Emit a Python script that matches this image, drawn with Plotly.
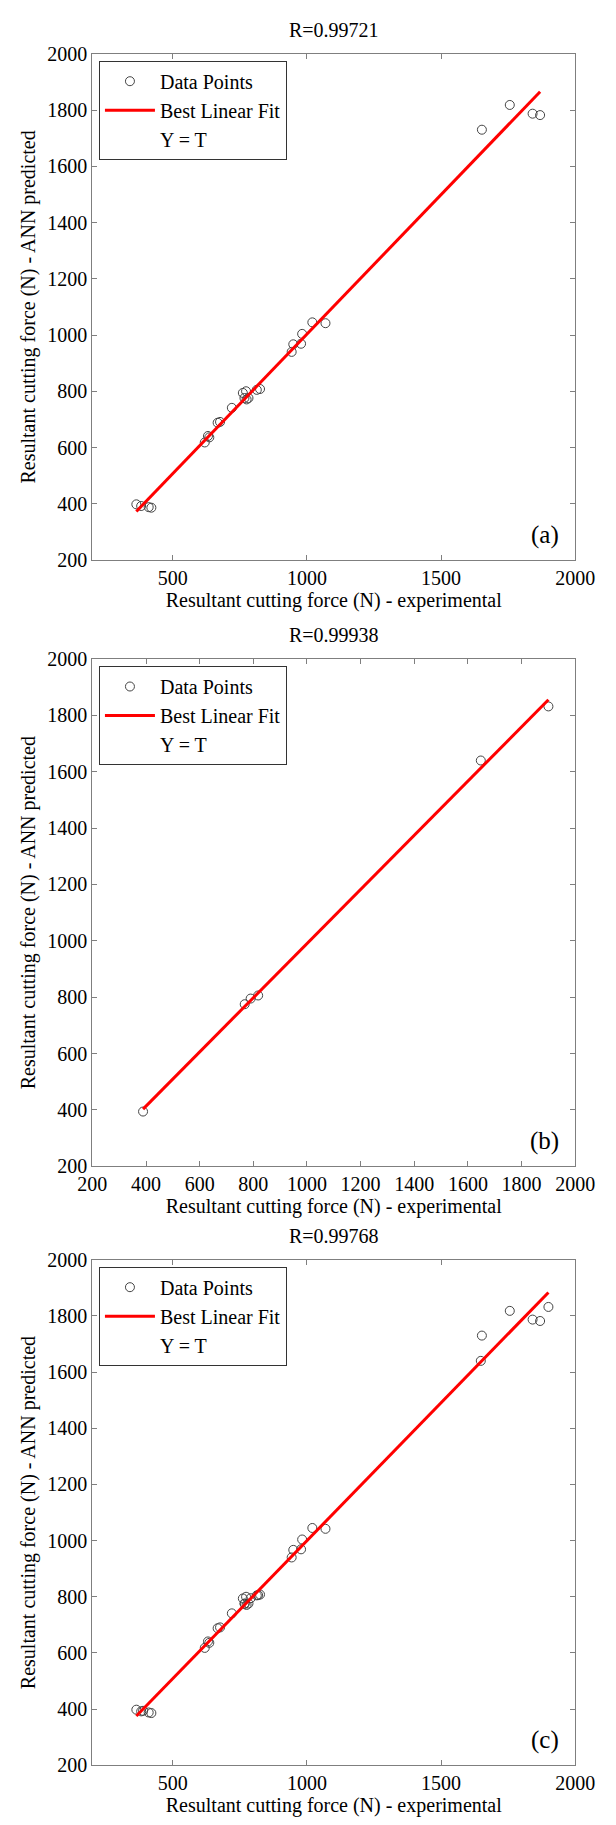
import numpy as np
import plotly.graph_objects as go

# ---------------- data ----------------
a_T = [364, 382, 410, 420, 619, 631, 636, 667, 676, 720, 761, 767, 773, 782, 775,
       813, 825, 943, 949, 978, 982, 1020, 1069, 1652, 1756, 1841, 1869]
a_Y = [398, 392, 388, 386, 618, 641, 636, 688, 691, 741, 794, 776, 800, 776, 771,
       805, 808, 940, 967, 969, 1004, 1045, 1042, 1730, 1818, 1787, 1782]

b_T = [389, 768, 790, 818, 1648, 1900]
b_Y = [394, 775, 795, 806, 1640, 1832]

c_T = a_T + b_T
c_Y = a_Y + b_Y

titles = ["R=0.99721", "R=0.99938", "R=0.99768"]
panel_labels = ["(a)", "(b)", "(c)"]
x_ticks = [[500, 1000, 1500, 2000],
           [200, 400, 600, 800, 1000, 1200, 1400, 1600, 1800, 2000],
           [500, 1000, 1500, 2000]]
y_ticks = [200, 400, 600, 800, 1000, 1200, 1400, 1600, 1800, 2000]
legend_names = ["Data Points", "Best Linear Fit", "Y = T"]
x_title = "Resultant cutting force (N) - experimental"
y_title = "Resultant cutting force (N) - ANN predicted"

datasets = [(a_T, a_Y), (b_T, b_Y), (c_T, c_Y)]

# ---------------- layout geometry ----------------
W, H = 616, 1825
FONT = "Liberation Serif"
x_dom = [82 / W, 594 / W]
frames_px = [(43.3, 555.7), (656.0, 1169.3), (1264.0, 1775.7)]  # top, bottom in px
y_doms = [[1 - b / H, 1 - t / H] for (t, b) in frames_px]

fig = go.Figure()
for i, (T, Y) in enumerate(datasets):
    sfx = "" if i == 0 else str(i + 1)
    xa, ya = "x" + sfx, "y" + sfx
    leg = "legend" + sfx
    T_arr = np.array(T, dtype=float)
    Y_arr = np.array(Y, dtype=float)
    m, c = np.polyfit(T_arr, Y_arr, 1)
    xf = np.array([T_arr.min(), T_arr.max()])
    yf = m * xf + c

    fig.add_trace(go.Scatter(
        x=T, y=Y, mode="markers", name=legend_names[0], xaxis=xa, yaxis=ya,
        legend=leg,
        marker=dict(symbol="circle-open", size=9, color="#444444",
                    line=dict(width=1, color="#444444"))))
    fig.add_trace(go.Scatter(
        x=xf, y=yf, mode="lines", name=legend_names[1], xaxis=xa, yaxis=ya,
        legend=leg, line=dict(color="#ff0000", width=3)))
    fig.add_trace(go.Scatter(
        x=T, y=T, mode="lines", name=legend_names[2], xaxis=xa, yaxis=ya,
        legend=leg, line=dict(color="rgba(0,0,0,0)", width=1)))

    axis_common = dict(
        showline=True, linecolor="#7f7f7f", linewidth=1, mirror="ticks",
        ticks="inside", ticklen=5, tickcolor="#7f7f7f",
        showgrid=False, zeroline=False,
        tickfont=dict(family=FONT, size=20, color="black"),
    )
    fig.layout["xaxis" + sfx] = dict(
        axis_common, domain=x_dom, anchor=ya, range=[200, 2000],
        tickvals=x_ticks[i],
        title=dict(text=x_title, font=dict(family=FONT, size=20, color="black"),
                   standoff=2))
    fig.layout["yaxis" + sfx] = dict(
        axis_common, domain=y_doms[i], anchor=xa, range=[200, 2000],
        tickvals=y_ticks,
        title=dict(text=y_title, font=dict(family=FONT, size=20, color="black"),
                   standoff=6))
    fig.layout[leg] = dict(
        x=x_dom[0] + 7 / W, y=y_doms[i][1] - 7 / H,
        xref="paper", yref="paper", xanchor="left", yanchor="top",
        bgcolor="white", bordercolor="#333333", borderwidth=1,
        font=dict(family=FONT, size=20, color="black"),
        itemwidth=50, tracegroupgap=0,
    )

    fig.add_annotation(
        text=titles[i], xref="x" + sfx + " domain", yref="y" + sfx + " domain",
        x=0.5, y=1, xanchor="center", yanchor="middle", yshift=24,
        showarrow=False, font=dict(family=FONT, size=20, color="black"))
    fig.add_annotation(
        text=panel_labels[i], xref="x" + sfx + " domain", yref="y" + sfx + " domain",
        x=0.937, y=0.05, xanchor="center", yanchor="middle",
        showarrow=False, font=dict(family=FONT, size=25, color="black"))

fig.update_layout(
    width=W, height=H, margin=dict(l=0, r=0, t=0, b=0),
    paper_bgcolor="white", plot_bgcolor="white",
    font=dict(family=FONT, size=20, color="black"),
)

fig.write_html("out.html", config={"displayModeBar": False},
               post_script="document.body.style.margin='0';")
